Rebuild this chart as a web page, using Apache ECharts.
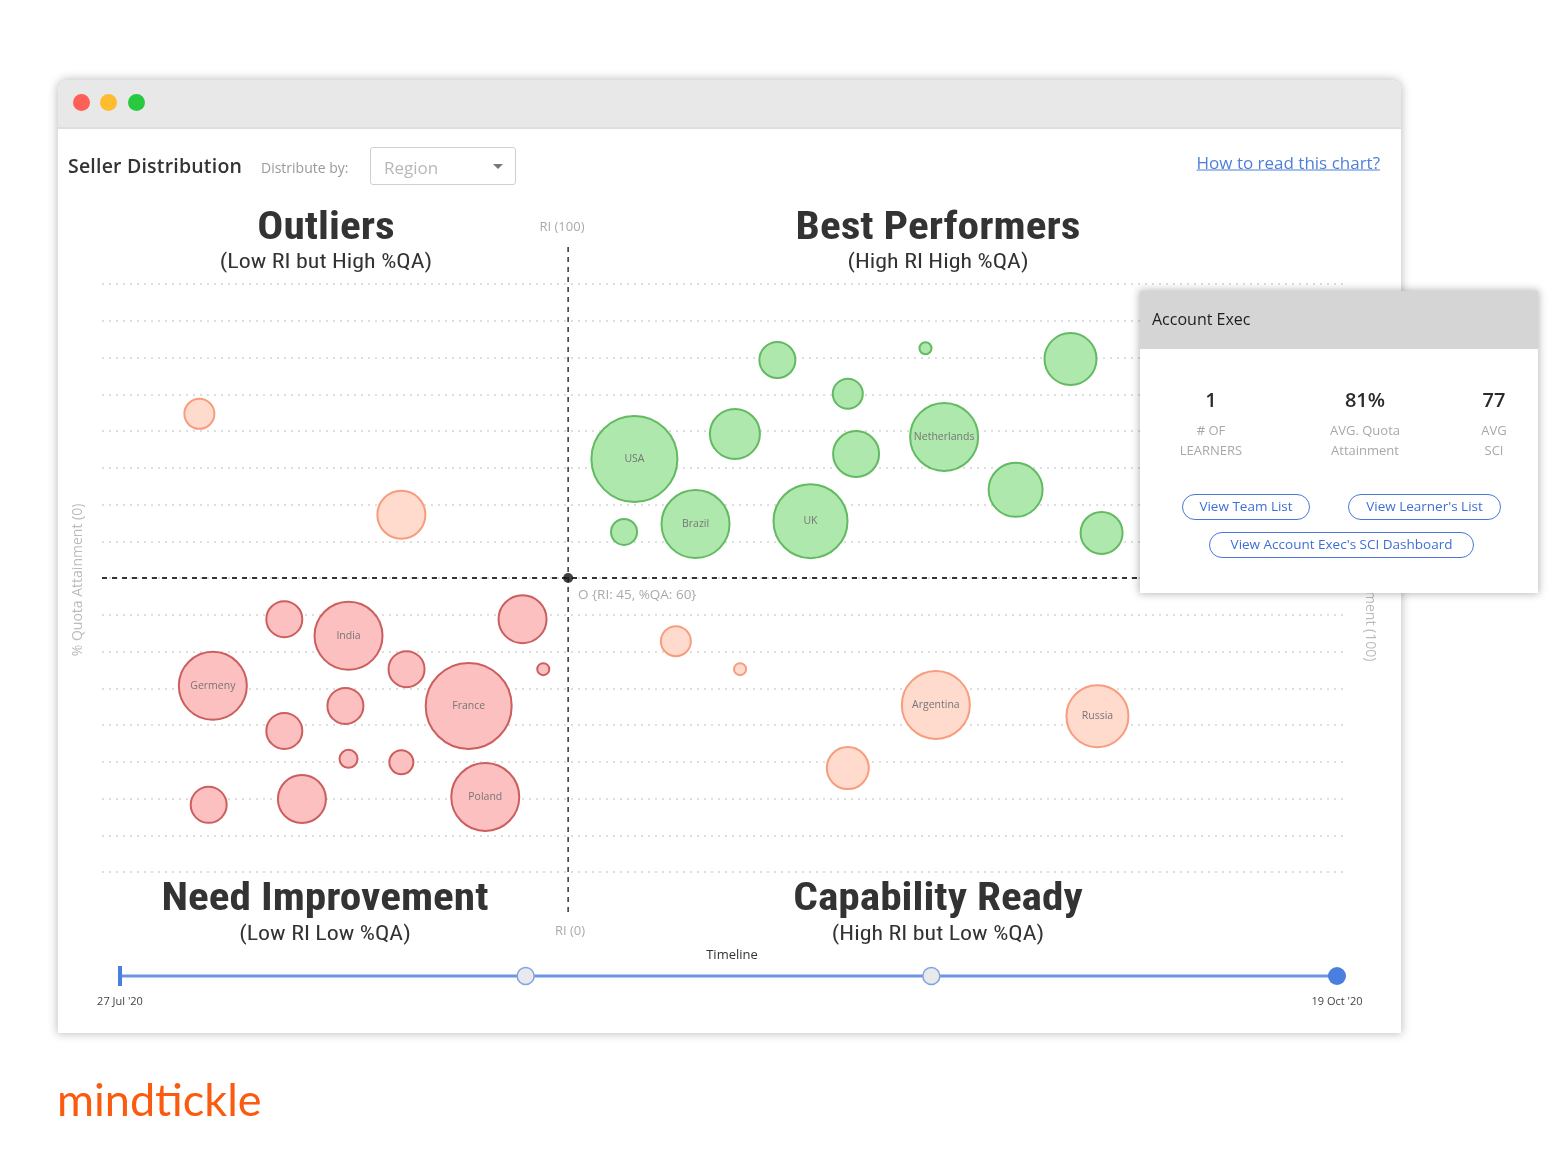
<!DOCTYPE html>
<html><head><meta charset="utf-8">
<script src="https://cdn.jsdelivr.net/npm/echarts@6/dist/echarts.min.js"></script>
<style>
html,body{margin:0;padding:0;width:1557px;height:1167px;background:#fff;overflow:hidden;font-family:"Open Sans",sans-serif;}
.abs{position:absolute;}
#frame{left:58px;top:80px;width:1343px;height:953px;background:#fff;border-radius:10px 10px 0 0;box-shadow:0 0 10px 1px rgba(0,0,0,0.25);}
#titlebar{left:0;top:0;width:1343px;height:47px;background:#e9e8e9;border-radius:10px 10px 0 0;border-bottom:2px solid #dedede;}
.dot{width:17px;height:17px;border-radius:50%;top:14px;}
.hdr{z-index:3;white-space:nowrap;transform:translateY(-50%);}
#chart{left:0;top:0;width:1557px;height:1167px;z-index:2;}
#panel{left:1140px;top:291px;width:398px;height:302px;background:#fff;box-shadow:0 0 8px 1px rgba(0,0,0,0.28);z-index:5;}
#panelHead{left:0;top:0;width:398px;height:58px;background:#d5d5d5;}
.c{transform:translate(-50%,-50%);white-space:nowrap;text-align:center;}
.num{font-size:20px;font-weight:600;color:#2a2a2a;}
.lbl{font-size:13px;color:#a8a8a8;line-height:20px;}
.btn{border:1.5px solid #4a78d8;border-radius:14px;color:#3f6fd6;font-size:13.5px;text-align:center;box-sizing:border-box;line-height:23px;}
#logo{left:57px;top:1072px;font-family:Lato,"Open Sans",sans-serif;font-size:45px;color:#fa5b0f;z-index:3;}
</style></head>
<body>
<div id="frame" class="abs">
  <div id="titlebar" class="abs">
    <div class="abs dot" style="left:15px;background:#fe5f57"></div>
    <div class="abs dot" style="left:42px;background:#febc2e"></div>
    <div class="abs dot" style="left:70px;background:#28c840"></div>
  </div>
</div>
<div class="abs hdr" style="left:68px;top:165px;font-size:19.5px;font-weight:600;color:#333;letter-spacing:0.2px;">Seller Distribution</div>
<div class="abs hdr" style="left:261px;top:167px;font-size:14px;color:#9a9a9a;">Distribute by:</div>
<div class="abs" style="left:370px;top:147px;width:146px;height:38px;border:1.5px solid #cfcfcf;border-radius:3px;box-sizing:border-box;z-index:3;">
  <div class="abs hdr" style="left:13px;top:19px;font-size:17px;color:#b8b8b8;">Region</div>
  <div class="abs" style="left:122px;top:16px;width:0;height:0;border-left:5px solid transparent;border-right:5px solid transparent;border-top:5px solid #777;"></div>
</div>
<div class="abs hdr" style="right:177px;top:162px;font-size:17px;color:#4d7fd8;text-decoration:underline;">How to read this chart?</div>

<div id="chart" class="abs"></div>

<div id="panel" class="abs">
  <div id="panelHead" class="abs">
    <div class="abs hdr" style="left:12px;top:28px;font-size:16px;font-weight:500;color:#1e1e1e;">Account Exec</div>
  </div>
  <div class="abs c num" style="left:71px;top:108px;">1</div>
  <div class="abs c num" style="left:225px;top:108px;">81%</div>
  <div class="abs c num" style="left:354px;top:108px;">77</div>
  <div class="abs c lbl" style="left:71px;top:149px;"># OF<br>LEARNERS</div>
  <div class="abs c lbl" style="left:225px;top:149px;">AVG. Quota<br>Attainment</div>
  <div class="abs c lbl" style="left:354px;top:149px;">AVG<br>SCI</div>
  <div class="abs btn" style="left:42px;top:203px;width:128px;height:26px;">View Team List</div>
  <div class="abs btn" style="left:208px;top:203px;width:153px;height:26px;">View Learner's List</div>
  <div class="abs btn" style="left:69px;top:241px;width:265px;height:26px;">View Account Exec's SCI Dashboard</div>
</div>

<div id="logo" class="abs">mindtickle</div>

<script>
// Best Performers (High RI High %QA)
const bestNames = ['', '', '', '', '', '', 'Netherlands', 'USA', '', '', 'Brazil', 'UK', ''];
const bestRI = [65.2, 79.5, 93.5, 72.0, 61.1, 72.8, 81.3, 51.4, 88.2, 50.4, 57.3, 68.4, 96.5];
const bestQA = [104.5, 106.9, 104.7, 97.6, 89.4, 85.3, 88.8, 84.3, 78.0, 69.4, 71.0, 71.6, 69.2];
const bestLearners = [18, 6, 26, 15, 25, 23, 34, 43, 27, 13, 34, 37, 21];

// Need Improvement (Low RI Low %QA)
const needNames = ['', 'India', '', 'Germeny', '', '', 'France', '', '', '', '', '', '', 'Poland'];
const needRI = [17.6, 23.8, 40.6, 10.7, 29.4, 42.6, 35.4, 23.5, 17.6, 23.8, 28.9, 10.3, 19.3, 37.0];
const needQA = [51.6, 48.2, 51.6, 38.0, 41.4, 41.4, 33.9, 33.9, 28.8, 23.1, 22.4, 13.7, 14.9, 15.3];
const needLearners = [18, 34, 24, 34, 18, 6, 43, 18, 18, 9, 12, 18, 24, 34];

// Outliers (Low RI but High %QA)
const outNames = ['', ''];
const outRI = [9.4, 28.9];
const outQA = [93.5, 72.9];
const outLearners = [15, 24];

// Capability Ready (High RI but Low %QA)
const capNames = ['', '', 'Argentina', 'Russia', ''];
const capRI = [55.4, 61.6, 80.5, 96.1, 72.0];
const capQA = [47.1, 41.4, 34.1, 31.8, 21.2];
const capLearners = [15, 6, 34, 31, 21];

// Origin
const originRI = 45;
const originQA = 60;
const axisMin = 0;
const axisMax = 120;
const gridInterval = 7.5;

// Timeline
const timelineDates = ["27 Jul '20", "24 Aug '20", "21 Sep '20", "19 Oct '20"];

function rows(ri, qa, n, names) { return ri.map((v, i) => [v, qa[i], n[i], names[i]]); }

function bubble(name, data, fill, border) {
  return {
    name, type: 'scatter', xAxisIndex: 0, yAxisIndex: 0, data,
    symbolSize: v => v[2] * 2,
    itemStyle: { color: fill, borderColor: border, borderWidth: 2, opacity: 1 },
    label: { show: true, position: 'inside', formatter: p => p.data[3] || '', fontSize: 10.5, color: '#767676', fontFamily: 'Open Sans' },
    z: 3
  };
}

const chart = echarts.init(document.getElementById('chart'), null, { renderer: 'canvas' });
const titleFont = '"Liberation Sans Narrow", "Roboto Condensed", Roboto, sans-serif';
const txt = (text, x, y, font, fill, extra) => Object.assign({
  type: 'text', x, y, silent: true,
  style: { text, font, fill, align: 'center', verticalAlign: 'middle' }
}, extra || {});
const wide = { scaleX: 1.14 };

chart.setOption({
  animation: false,
  backgroundColor: 'transparent',
  grid: [
    { left: 102, top: 284, width: 1243, height: 588 },
    { left: 102, top: 245, width: 1243, height: 667 },
    { left: 120, top: 966, width: 1217, height: 20 }
  ],
  xAxis: [
    { gridIndex: 0, type: 'value', min: axisMin, max: axisMax, show: false },
    { gridIndex: 1, type: 'value', min: axisMin, max: axisMax, show: false },
    { gridIndex: 2, type: 'category', data: timelineDates, boundaryGap: false,
      axisLine: { show: false }, axisTick: { show: false }, splitLine: { show: false },
      axisLabel: { interval: (i) => i === 0 || i === timelineDates.length - 1, fontSize: 11, color: '#444', margin: 10, fontFamily: 'Open Sans' } }
  ],
  yAxis: [
    { gridIndex: 0, type: 'value', min: axisMin, max: axisMax, interval: gridInterval,
      axisLine: { show: false }, axisTick: { show: false }, axisLabel: { show: false },
      splitLine: { show: true, lineStyle: { type: [2, 5], color: '#d4d4d4', width: 1.5 } } },
    { gridIndex: 1, type: 'value', min: 0, max: 1, show: false },
    { gridIndex: 2, type: 'value', min: 0, max: 1, show: false }
  ],
  series: [
    { type: 'line', xAxisIndex: 0, yAxisIndex: 0, data: [[axisMin, originQA], [axisMax, originQA]], symbol: 'none',
      lineStyle: { type: [5, 5], color: '#333', width: 2 }, z: 1, silent: true },
    { type: 'line', xAxisIndex: 1, yAxisIndex: 1, data: [[originRI, 0], [originRI, 1]], symbol: 'none',
      lineStyle: { type: [5, 5], color: '#333', width: 1.5 }, z: 1, silent: true },
    bubble('Best Performers', rows(bestRI, bestQA, bestLearners, bestNames), '#aee8ac', '#62ba62'),
    bubble('Need Improvement', rows(needRI, needQA, needLearners, needNames), '#fcc0c0', '#cc5e5e'),
    bubble('Outliers', rows(outRI, outQA, outLearners, outNames), '#ffdbce', '#f89c7e'),
    bubble('Capability Ready', rows(capRI, capQA, capLearners, capNames), '#ffdbce', '#f89c7e'),
    { type: 'scatter', xAxisIndex: 0, yAxisIndex: 0, data: [[originRI, originQA]], symbolSize: 10,
      itemStyle: { color: '#111' }, z: 4, silent: true },
    { type: 'line', xAxisIndex: 2, yAxisIndex: 2,
      data: timelineDates.map((d, i) => {
        if (i === 0) return { value: 0.5, symbol: 'rect', symbolSize: [4, 20], itemStyle: { color: '#4a7ee0', borderWidth: 0 } };
        if (i === timelineDates.length - 1) return { value: 0.5, symbol: 'circle', symbolSize: 18, itemStyle: { color: '#4a7ee0', borderWidth: 0 } };
        return { value: 0.5, symbol: 'circle', symbolSize: 17, itemStyle: { color: '#e9e9ec', borderColor: '#7fa2e6', borderWidth: 1.5 } };
      }),
      showAllSymbol: true,
      lineStyle: { color: '#6d95e6', width: 3 }, z: 2, silent: true }
  ],
  graphic: [
    txt('Outliers', 326, 229, 'bold 38px ' + titleFont, '#333', wide),
    txt('(Low RI but High %QA)', 326, 263, '21px ' + titleFont, '#333', wide),
    txt('Best Performers', 938, 229, 'bold 38px ' + titleFont, '#333', wide),
    txt('(High RI High %QA)', 938, 263, '21px ' + titleFont, '#333', wide),
    txt('Need Improvement', 325, 900, 'bold 38px ' + titleFont, '#333', wide),
    txt('(Low RI Low %QA)', 325, 935, '21px ' + titleFont, '#333', wide),
    txt('Capability Ready', 938, 900, 'bold 38px ' + titleFont, '#333', wide),
    txt('(High RI but Low %QA)', 938, 935, '21px ' + titleFont, '#333', wide),
    txt('RI (100)', 562, 227, '13px "Open Sans"', '#aaa'),
    txt('RI (0)', 570, 931, '13px "Open Sans"', '#aaa'),
    { type: 'text', x: 578, y: 595, silent: true, style: { text: 'O {RI: 45, %QA: 60}', font: '13.5px "Open Sans"', fill: '#aaa', align: 'left', verticalAlign: 'middle' } },
    txt('% Quota Attainment (0)', 78, 580, '14px "Open Sans"', '#bbb', { rotation: Math.PI / 2 }),
    txt('% Quota Attainment (100)', 1370, 577, '14px "Open Sans"', '#bbb', { rotation: -Math.PI / 2 }),
    txt('Timeline', 732, 955, '13px "Open Sans"', '#333')
  ]
});
</script>
</body></html>
